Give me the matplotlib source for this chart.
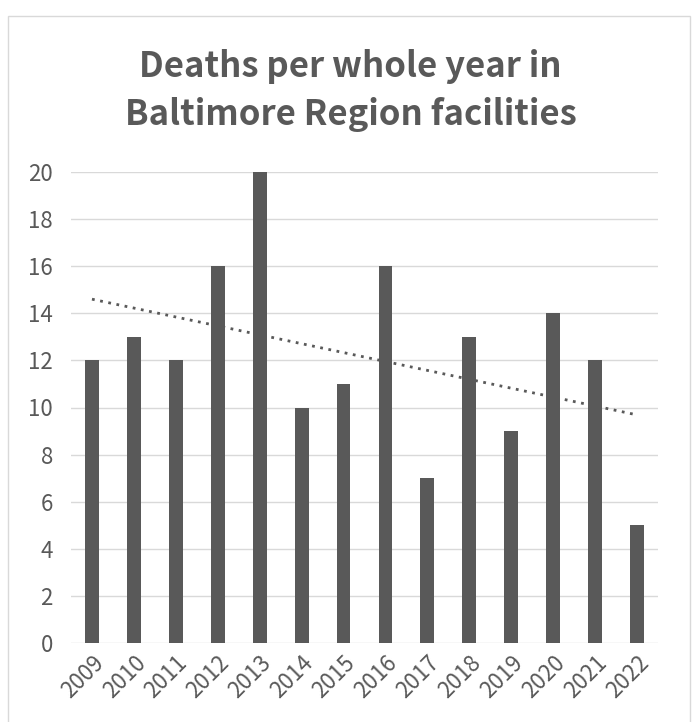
import numpy as np
import matplotlib.pyplot as plt
from matplotlib.patches import Rectangle

plt.rcParams['font.family'] = ['Noto Sans CJK SC', 'DejaVu Sans']

years = ['2009', '2010', '2011', '2012', '2013', '2014', '2015',
         '2016', '2017', '2018', '2019', '2020', '2021', '2022']
deaths = [12, 13, 12, 16, 20, 10, 11, 16, 7, 13, 9, 14, 12, 5]

W, H = 694, 722
fig = plt.figure(figsize=(W / 100, H / 100), dpi=100)
ax = fig.add_axes([71 / W, 1 - 643 / H, 587 / W, (643 - 172) / H])

x = np.arange(len(years))
ax.bar(x, deaths, width=0.33, color='#595959', zorder=3)

# linear trendline
coef = np.polyfit(x, deaths, 1)
ax.plot(x, np.polyval(coef, x), linestyle=(0, (1, 2)), color='#595959', lw=2, zorder=4)

ax.set_xlim(-0.5, len(years) - 0.5)
ax.set_ylim(0, 20)
ax.set_yticks(range(0, 21, 2))
ax.set_xticks(x)
ax.set_xticklabels(years, rotation=45, ha='right', rotation_mode='anchor')
ax.tick_params(length=0, labelsize=16, labelcolor='#595959')
ax.tick_params(axis='y', pad=13)
ax.tick_params(axis='x', pad=6)
for lab in ax.get_xticklabels() + ax.get_yticklabels():
    lab.set_fontweight('light')
ax.grid(axis='y', color='#d9d9d9', lw=1, zorder=0)
for s in ax.spines.values():
    s.set_visible(False)

fig.text(0.505, 1 - 66 / H, 'Deaths per whole year in', ha='center', va='center',
         fontsize=25, fontweight='bold', color='#595959')
fig.text(0.505, 1 - 115 / H, 'Baltimore Region facilities', ha='center', va='center',
         fontsize=25, fontweight='bold', color='#595959')

fig.patches.append(Rectangle((8 / W, -0.05), (690 - 8) / W, 1 - 16 / H + 0.05,
                             transform=fig.transFigure, fill=False,
                             edgecolor='#d9d9d9', lw=1))

fig.savefig('out.png', dpi=100)
